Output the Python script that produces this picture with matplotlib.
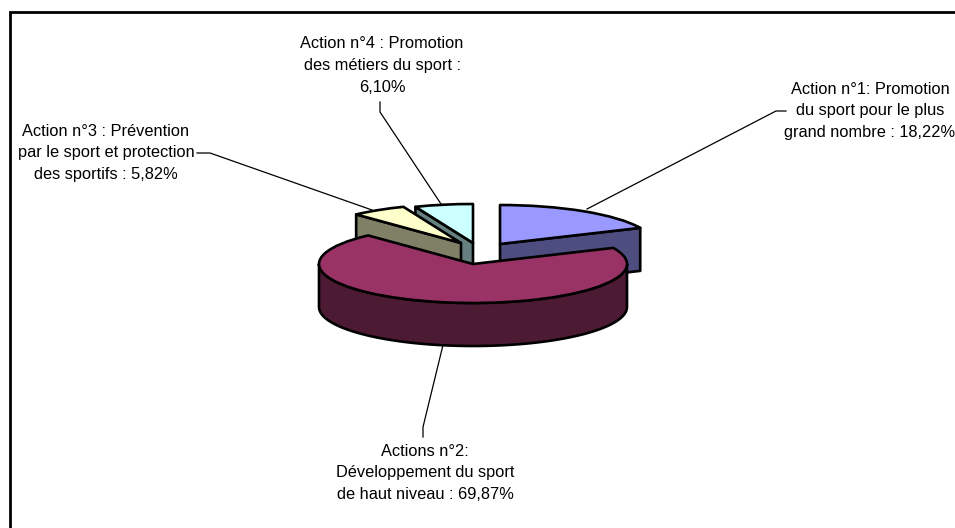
import numpy as np
import matplotlib
matplotlib.use("Agg")
import matplotlib.pyplot as plt
from matplotlib.patches import Polygon, Wedge
from matplotlib.transforms import Affine2D

plt.rcParams['font.family'] = ['Liberation Sans', 'DejaVu Sans']

labels = [
    "Action n°1: Promotion\ndu sport pour le plus\ngrand nombre : 18,22%",
    "Actions n°2:\nDéveloppement du sport\nde haut niveau : 69,87%",
    "Action n°3 : Prévention\npar le sport et protection\ndes sportifs : 5,82%",
    "Action n°4 : Promotion\ndes métiers du sport :\n6,10%",
]
values = [18.22, 69.87, 5.82, 6.10]
top_colors = ["#9999FF", "#993366", "#FFFFCC", "#CCFFFF"]
side_colors = ["#4D4D80", "#4D1A33", "#808066", "#668080"]
apexes = [(500, 244), (473, 264), (461, 243), (473, 243)]
label_pos = [(870, 111), (425, 473), (106, 153), (382, 65.5)]
leaders = [
    [(587, 209), (776, 111), (786, 111)],
    [(443, 345), (423, 427), (423, 437)],
    [(372, 210), (210, 153), (197, 153)],
    [(441, 204), (380, 112), (380, 102)],
]

A, B, DEPTH = 154.0, 39.0, 43.0
LW = 1.9

fig = plt.figure(figsize=(9.55, 5.28), dpi=100)
ax = fig.add_axes([0, 0, 1, 1])
ax.set_xlim(0, 955)
ax.set_ylim(528, 0)
ax.axis("off")

# frame: only left and top edges are visible
ax.plot([9.5, 9.5, 955], [528, 11.5, 11.5], color="black", lw=2.0,
        solid_joinstyle="miter", zorder=1)

fracs = np.array(values) / sum(values) * 360.0
starts = np.concatenate([[0], np.cumsum(fracs)[:-1]])


def pt(apex, theta, dy=0.0):
    t = np.radians(theta)
    return (apex[0] + A * np.sin(t), apex[1] - B * np.cos(t) + dy)


def draw_slice(i):
    apex = apexes[i]
    s, e = starts[i], starts[i] + fracs[i]
    kw = dict(fc=side_colors[i], ec="black", lw=LW, joinstyle="round")
    if i == 1:
        # curved front wall
        th = np.linspace(90, 270, 120)
        p = [pt(apex, t) for t in th] + [pt(apex, t, DEPTH) for t in th[::-1]]
        ax.add_patch(Polygon(p, closed=True, **kw))
    else:
        # radial wall facing the viewer
        edge = e if i == 0 else s
        q = pt(apex, edge)
        p = [apex, q, (q[0], q[1] + DEPTH), (apex[0], apex[1] + DEPTH)]
        ax.add_patch(Polygon(p, closed=True, **kw))
    tr = Affine2D().scale(A, -B).translate(*apex) + ax.transData
    ax.add_patch(Wedge((0, 0), 1, 90 - e, 90 - s, transform=tr,
                       fc=top_colors[i], ec="black", lw=LW,
                       joinstyle="round"))


for path in leaders:
    xs, ys = zip(*path)
    ax.plot(xs, ys, color="black", lw=0.9, zorder=2)

# back to front
for z, i in enumerate([3, 2, 0, 1]):
    before = len(ax.patches)
    draw_slice(i)
    for patch in ax.patches[before:]:
        patch.set_zorder(3 + z)

for lab, (x, y) in zip(labels, label_pos):
    ax.text(x, y, lab, ha="center", va="center", fontsize=11.8,
            linespacing=1.55, color="black", zorder=10)

fig.savefig("out.png", dpi=100)
